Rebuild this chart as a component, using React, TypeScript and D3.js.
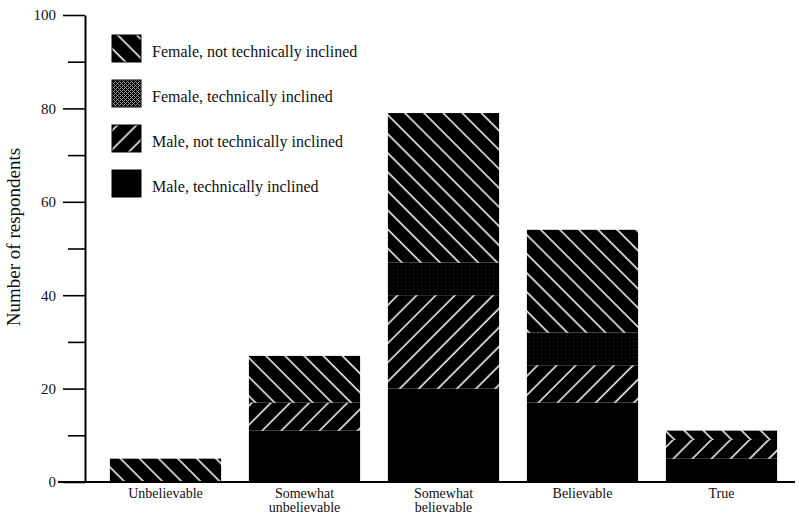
import { useEffect, useRef } from "react";
import * as d3 from "d3";

// chart data
const categories = ["Unbelievable", "Somewhat unbelievable", "Somewhat believable", "Believable", "True"];
const categoryLines = [["Unbelievable"], ["Somewhat", "unbelievable"], ["Somewhat", "believable"], ["Believable"], ["True"]];
const maleTech = [0, 11, 20, 17, 5];
const maleNotTech = [0, 6, 20, 8, 4];
const femaleTech = [0, 0, 7, 7, 0];
const femaleNotTech = [5, 10, 32, 22, 2];
const seriesKeys = ["maleTech", "maleNotTech", "femaleTech", "femaleNotTech"];
const legendLabels = [
  "Female, not technically inclined",
  "Female, technically inclined",
  "Male, not technically inclined",
  "Male, technically inclined",
];
const legendKeys = ["femaleNotTech", "femaleTech", "maleNotTech", "maleTech"];
const majorTicks = [0, 20, 40, 60, 80, 100];
const minorTicks = [10, 30, 50, 70, 90];

const FONT = "'Liberation Serif', 'DejaVu Serif', serif";

export default function App() {
  const ref = useRef<SVGSVGElement>(null);

  useEffect(() => {
    const width = 799;
    const height = 519;
    const svg = d3.select(ref.current).attr("width", width).attr("height", height);
    svg.selectAll("*").remove();

    const axisX = 85;
    const y = d3.scaleLinear().domain([0, 100]).range([482, 15]);
    const x = d3.scaleBand<string>().domain(categories).range([96, 791]).paddingInner(0.2).paddingOuter(0.1);

    // patterns
    const defs = svg.append("defs");
    const hatch = (id: string, angle: number) => {
      const p = defs
        .append("pattern")
        .attr("id", id)
        .attr("patternUnits", "userSpaceOnUse")
        .attr("width", 13.5)
        .attr("height", 13.5)
        .attr("patternTransform", `rotate(${angle})`);
      p.append("rect").attr("width", 13.5).attr("height", 13.5).attr("fill", "#000");
      p.append("line")
        .attr("x1", 4)
        .attr("y1", 0)
        .attr("x2", 4)
        .attr("y2", 13.5)
        .attr("stroke", "#fff")
        .attr("stroke-width", 1.5);
    };
    hatch("femaleNotTech", -45);
    hatch("maleNotTech", 45);

    const stipple = (id: string, dots: [number, number][], color: string) => {
      const p = defs
        .append("pattern")
        .attr("id", id)
        .attr("patternUnits", "userSpaceOnUse")
        .attr("width", 4)
        .attr("height", 4);
      p.append("rect").attr("width", 4).attr("height", 4).attr("fill", "#000");
      dots.forEach(([dx, dy]) => {
        p.append("rect").attr("x", dx).attr("y", dy).attr("width", 1).attr("height", 1).attr("fill", color);
      });
    };
    stipple("femaleTech", [[1, 1]], "#1e1e1e");
    stipple("femaleTechLegend", [[0, 0], [2, 2], [2, 0], [0, 2], [1, 3], [3, 1]], "#9a9a9a");

    const fillFor: Record<string, string> = {
      maleTech: "#000",
      maleNotTech: "url(#maleNotTech)",
      femaleTech: "url(#femaleTech)",
      femaleNotTech: "url(#femaleNotTech)",
    };

    // stacked bars
    const rows = categories.map((c, i) => ({
      category: c,
      maleTech: maleTech[i],
      maleNotTech: maleNotTech[i],
      femaleTech: femaleTech[i],
      femaleNotTech: femaleNotTech[i],
    }));
    const stacked = d3.stack<any>().keys(seriesKeys)(rows);

    const layers = svg
      .append("g")
      .selectAll("g")
      .data(stacked)
      .join("g")
      .attr("fill", (d) => fillFor[d.key]);

    layers
      .selectAll("rect")
      .data((d) => d.filter((s) => s[1] > s[0]))
      .join("rect")
      .attr("x", (d) => x(d.data.category)!)
      .attr("width", x.bandwidth())
      .attr("y", (d) => y(d[1]))
      .attr("height", (d) => y(d[0]) - y(d[1]));

    // y axis
    const major = svg
      .append("g")
      .attr("transform", `translate(${axisX},0)`)
      .call(d3.axisLeft(y).tickValues(majorTicks).tickSize(22).tickSizeOuter(0).tickPadding(7).tickFormat(d3.format("d")));
    major.select(".domain").attr("stroke-width", 2);
    major.selectAll(".tick line").attr("stroke-width", 1.6);
    major
      .selectAll(".tick text")
      .attr("font-family", FONT)
      .attr("font-size", 15)
      .attr("fill", "#111");

    const minor = svg
      .append("g")
      .attr("transform", `translate(${axisX},0)`)
      .call(d3.axisLeft(y).tickValues(minorTicks).tickSize(17).tickSizeOuter(0).tickFormat(() => ""));
    minor.select(".domain").remove();
    minor.selectAll(".tick line").attr("stroke-width", 1.6);

    // baseline
    svg
      .append("line")
      .attr("x1", 58)
      .attr("x2", 795)
      .attr("y1", y(0))
      .attr("y2", y(0))
      .attr("stroke", "#000")
      .attr("stroke-width", 2);

    // x labels
    const xl = svg
      .append("g")
      .selectAll("text")
      .data(categories)
      .join("text")
      .attr("x", (d) => x(d)! + x.bandwidth() / 2)
      .attr("y", 498)
      .attr("text-anchor", "middle")
      .attr("font-family", FONT)
      .attr("font-size", 14)
      .attr("fill", "#111");
    xl.selectAll("tspan")
      .data((d) => categoryLines[categories.indexOf(d)].map((t) => ({ t, cx: x(d)! + x.bandwidth() / 2 })))
      .join("tspan")
      .attr("x", (d) => d.cx)
      .attr("dy", (d, i) => (i === 0 ? 0 : 14))
      .text((d) => d.t);

    // y title
    svg
      .append("text")
      .attr("transform", "translate(20,237) rotate(-90)")
      .attr("text-anchor", "middle")
      .attr("font-family", FONT)
      .attr("font-size", 19)
      .attr("fill", "#111")
      .text("Number of respondents");

    // legend
    const legend = svg
      .append("g")
      .selectAll("g")
      .data(legendKeys)
      .join("g")
      .attr("transform", (d, i) => `translate(112,${35 + i * 45})`);
    legend
      .append("rect")
      .attr("width", 29)
      .attr("height", 27)
      .attr("fill", (d) => (d === "femaleTech" ? "url(#femaleTechLegend)" : fillFor[d]))
      .attr("stroke", "#000")
      .attr("stroke-width", 1);
    legend
      .append("text")
      .attr("x", 40)
      .attr("y", 22)
      .attr("font-family", FONT)
      .attr("font-size", 16)
      .attr("fill", "#111")
      .text((d, i) => legendLabels[i]);
  }, []);

  return <svg ref={ref} style={{ position: "absolute", left: 0, top: 0, background: "#fff" }}></svg>;
}
